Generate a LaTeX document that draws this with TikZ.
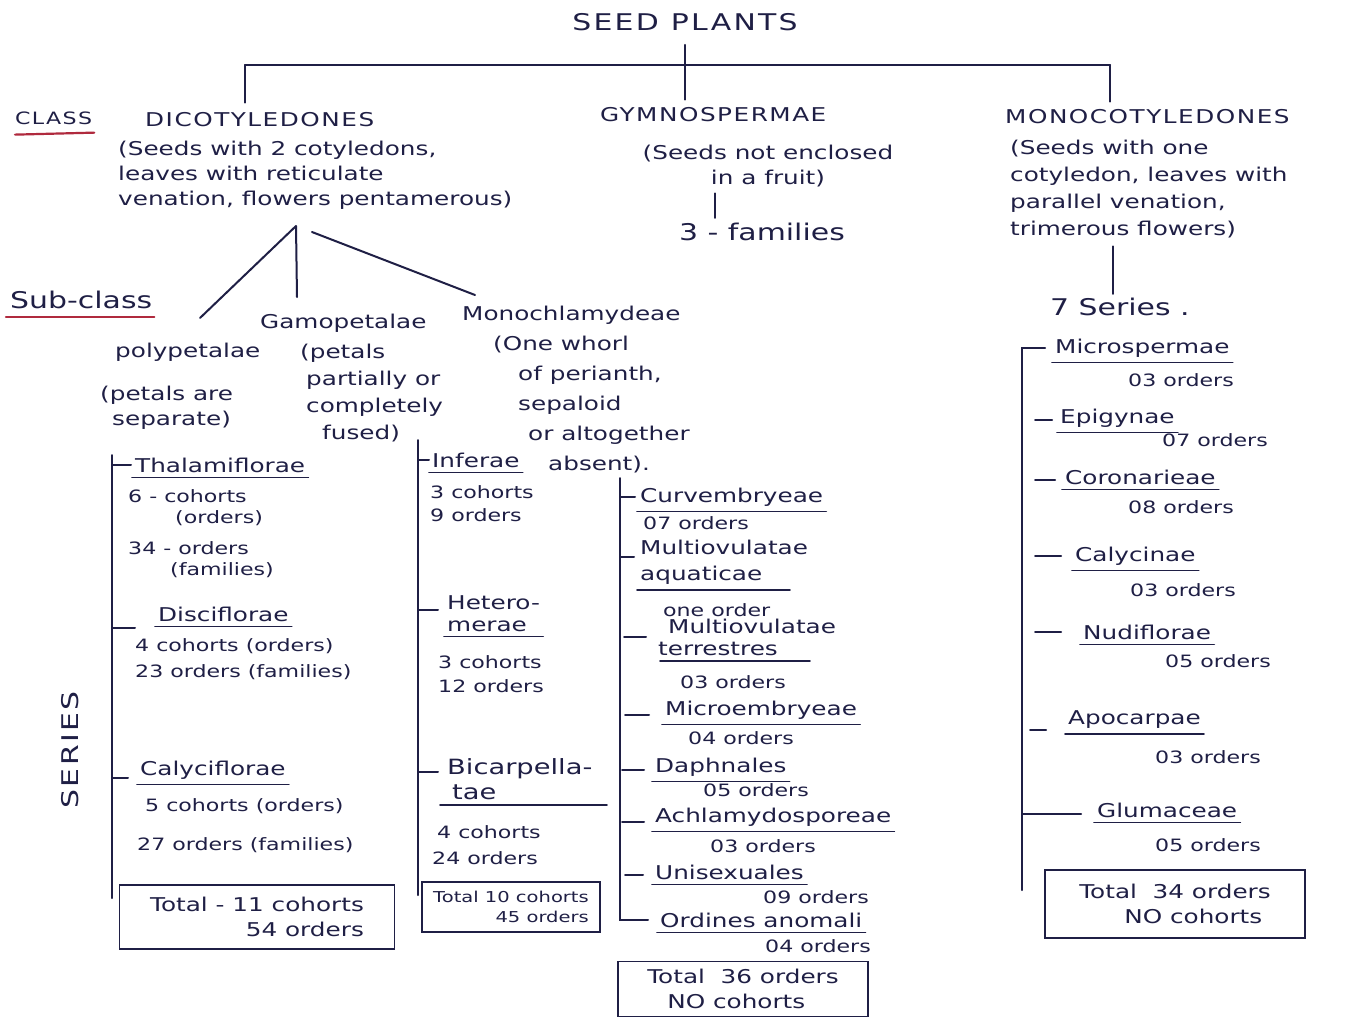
\documentclass[tikz,border=0pt]{standalone}
\usepackage{fontspec}
\setmainfont{DejaVu Sans}[FakeStretch=1.3]
\usetikzlibrary{calc}
\definecolor{ink}{HTML}{1F1F45}
\definecolor{redink}{HTML}{B02A3E}
\newcommand\hnd{\fontsize{19}{25}\selectfont}
\newcommand\hsm{\fontsize{17}{22}\selectfont}
\newcommand\hbig{\fontsize{23}{28}\selectfont}
\newcommand\hcap{\fontsize{19}{25}\selectfont\addfontfeature{LetterSpace=8}}
\newcommand\hcapbig{\fontsize{23}{28}\selectfont\addfontfeature{LetterSpace=10}}
\newcommand\ulnode[1]{\draw[uline] ($(#1.south west)+(-3,5)$) -- ($(#1.south east)+(3,5)$);}
\begin{document}
\begin{tikzpicture}[x=1pt,y=-1pt,
  every node/.style={inner sep=0pt, text=ink},
  txt/.style={anchor=west, font=\hnd},
  small/.style={anchor=west, font=\hsm},
  capsN/.style={anchor=west, font=\hcap},
  multi/.style={anchor=north west, align=left, font=\hnd},
  totbox/.style={draw=ink, line width=1.9pt, inner sep=4pt, align=right, font=\hnd},
  conn/.style={draw=ink, line width=2pt, line cap=round},
  uline/.style={draw=ink, line width=1.7pt, line cap=round},
  redline/.style={draw=redink, line width=2.2pt, line cap=round}]
\useasboundingbox[fill=white] (0,0) rectangle (1350,1020);

% ---------- top level ----------
\node[anchor=center, font=\hcapbig] (title) at (685,22) {SEED PLANTS};
\coordinate (barL) at (245,65);
\coordinate (barR) at (1110,65);
\node[capsN] (dicot) at (145,120) {DICOTYLEDONES};
\node[capsN] (gymno) at (600,115) {GYMNOSPERMAE};
\node[capsN] (monoc) at (1005,117) {MONOCOTYLEDONES};
\draw[conn] (barL) -- (barR);
\draw[conn] (barL) -- ($(barL |- dicot.north)+(0,-10)$);
\draw[conn] ($(title.south)+(0,14)$) -- ($(title.south |- gymno.north)+(0,-8)$);
\draw[conn] (barR) -- ($(barR |- monoc.north)+(0,-8)$);

\node[anchor=west, font=\fontsize{17}{22}\selectfont\addfontfeature{LetterSpace=8}] (class) at (15,118) {CLASS};
\draw[redline] ($(class.south west)+(0,10)$) -- ($(class.south east)+(2,8)$);

% ---------- Dicotyledones ----------
\node[multi] (dicotdesc) at (118,141) {(Seeds with 2 cotyledons,\\leaves with reticulate\\venation, flowers pentamerous)};
\coordinate (fork) at (296,226);
\coordinate (polyend) at (200,318);
\coordinate (gamoend) at (297,297);
\coordinate (monend) at (475,295);
\draw[conn] (fork) -- (polyend);
\draw[conn] (fork) -- (gamoend);
\draw[conn] ($(fork)+(16,6)$) -- (monend);

\node[anchor=west, font=\hbig] (subclass) at (10,300) {Sub-class};
\draw[redline] ($(subclass.south west)+(-4,8)$) -- ($(subclass.south east)+(2,8)$);

\node[txt] (gamo) at (260,323) {Gamopetalae};
\node[txt] (monoch) at (462,315) {Monochlamydeae};
\node[txt] (poly) at (115,352) {polypetalae};

\node[multi, font=\fontsize{19}{27}\selectfont] (gamodesc) at (300,344) {(petals\\\hspace*{6pt}partially or\\\hspace*{6pt}completely\\\hspace*{22pt}fused)};
\node[multi] (polydesc) at (100,386) {(petals are\\\hspace*{12pt}separate)};
\node[multi, font=\fontsize{19}{30}\selectfont] (monodesc) at (493,336) {(One whorl\\\hspace*{25pt}of perianth,\\\hspace*{25pt}sepaloid\\\hspace*{35pt}or altogether\\\hspace*{55pt}absent).};

% ---------- Gymnospermae ----------
\node[multi, align=center, anchor=north] (gymdesc) at (768,145) {(Seeds not enclosed\\in a fruit)};
\node[anchor=center, font=\hbig] (fam) at (762,232) {3 - families};
\draw[conn] ($(fam.north)+(-47,-5)$) -- ($(fam.north |- gymdesc.south)+(-47,6)$);

% ---------- Monocotyledones ----------
\node[multi, font=\fontsize{19}{27}\selectfont] (monocdesc) at (1010,140) {(Seeds with one\\cotyledon, leaves with\\parallel venation,\\trimerous flowers)};
\node[anchor=west, font=\hbig] (seven) at (1050,307) {7 Series .};
\coordinate (sevx) at (1113,0);
\draw[conn] ($(sevx |- seven.north)+(0,-4)$) -- ($(sevx |- monocdesc.south)+(0,8)$);

% ---------- Series label ----------
\node[font=\hcapbig, rotate=90] (series) at (70,750) {SERIES};

% ---------- Polypetalae series ----------
\coordinate (pTop) at (112,455);
\coordinate (pBot) at (112,898);
\draw[conn] (pTop) -- (pBot);
\node[txt] (thal) at (135,465) {Thalamiflorae};
\draw[conn] (thal.west -| pTop) -- ($(thal.west)+(-4,0)$);
\ulnode{thal}
\node[small] (thal1) at (128,496) {6 - cohorts};
\node[small] (thal2) at (175,518) {(orders)};
\node[small] (thal3) at (128,548) {34 - orders};
\node[small] (thal4) at (170,570) {(families)};
\node[txt] (disc) at (158,614) {Disciflorae};
\draw[conn] ($(disc.west -| pTop)+(0,14)$) -- ++(23,0);
\ulnode{disc}
\node[small] (disc1) at (135,646) {4 cohorts (orders)};
\node[small] (disc2) at (135,672) {23 orders (families)};
\node[txt] (caly) at (140,770) {Calyciflorae};
\draw[conn] ($(caly.west -| pTop)+(0,8)$) -- ++(16,0);
\ulnode{caly}
\node[small] (caly1) at (145,806) {5 cohorts (orders)};
\node[small] (caly2) at (137,845) {27 orders (families)};
\node[totbox, minimum width=275pt, minimum height=64pt] (ptot) at (257,917) {Total - 11 cohorts\\54 orders};

% ---------- Gamopetalae series ----------
\coordinate (gTop) at (418,440);
\coordinate (gBot) at (418,895);
\draw[conn] (gTop) -- (gBot);
\node[txt] (infe) at (432,460) {Inferae};
\draw[conn] (infe.west -| gTop) -- ($(infe.west)+(-3,0)$);
\ulnode{infe}
\node[small] (infe1) at (430,492) {3 cohorts};
\node[small] (infe2) at (430,515) {9 orders};
\node[multi, font=\fontsize{19}{22}\selectfont] (hetero) at (447,595) {Hetero-\\merae};
\draw[conn] ($(hetero.north west -| gTop)+(0,15)$) -- ++(20,0);
\ulnode{hetero}
\node[small] (het1) at (438,662) {3 cohorts};
\node[small] (het2) at (438,686) {12 orders};
\node[multi, font=\fontsize{21}{25}\selectfont] (bicarp) at (447,758) {Bicarpella-\\\hspace*{5pt}tae};
\draw[conn] ($(bicarp.north west -| gTop)+(0,14)$) -- ++(20,0);
\draw[uline] ($(bicarp.south west)+(-7,5)$) -- ($(bicarp.south west)+(160,5)$);
\node[small] (bic1) at (437,832) {4 cohorts};
\node[small] (bic2) at (432,858) {24 orders};
\node[totbox, font=\fontsize{15}{20}\selectfont, minimum width=178pt, minimum height=50pt] (gtot) at (511,907) {Total 10 cohorts\\45 orders};

% ---------- Monochlamydeae series ----------
\coordinate (mTop) at (620,478);
\node[txt] (curv) at (640,497) {Curvembryeae};
\ulnode{curv}
\node[small] (curv1) at (643,523) {07 orders};
\node[multi, font=\fontsize{19}{26}\selectfont] (multa) at (640,540) {Multiovulatae\\aquaticae};
\draw[uline] ($(multa.south west)+(-3,5)$) -- ($(multa.south west)+(150,5)$);
\node[small] (multa1) at (663,610) {one order};
\node[multi, font=\fontsize{19}{22}\selectfont] (multt) at (658,619) {\hspace*{10pt}Multiovulatae\\terrestres};
\draw[uline] ($(multt.south west)+(2,5)$) -- ($(multt.south west)+(152,5)$);
\node[small] (multt1) at (680,682) {03 orders};
\node[txt] (micro) at (665,710) {Microembryeae};
\ulnode{micro}
\node[small] (micro1) at (688,738) {04 orders};
\node[txt] (daph) at (655,767) {Daphnales};
\ulnode{daph}
\node[small] (daph1) at (703,790) {05 orders};
\node[txt] (achl) at (655,817) {Achlamydosporeae};
\ulnode{achl}
\node[small] (achl1) at (710,846) {03 orders};
\node[txt] (unis) at (655,872) {Unisexuales};
\ulnode{unis}
\node[small] (unis1) at (763,897) {09 orders};
\node[txt] (ordin) at (660,920) {Ordines anomali};
\ulnode{ordin}
\node[small] (ordin1) at (765,946) {04 orders};
\draw[conn] (mTop) -- (ordin.west -| mTop) -- ($(ordin.west)+(-12,0)$);
\draw[conn] (curv.west -| mTop) -- ($(curv.west)+(-5,0)$);
\draw[conn] ($(multa.north west -| mTop)+(0,17)$) -- ++(14,0);
\draw[conn] ($(multt.north west -| mTop)+(4,18)$) -- ++(22,0);
\draw[conn] ($(micro.west -| mTop)+(5,5)$) -- ++(24,0);
\draw[conn] ($(daph.west -| mTop)+(2,3)$) -- ++(22,0);
\draw[conn] ($(achl.west -| mTop)+(2,5)$) -- ++(22,0);
\draw[conn] ($(unis.west -| mTop)+(5,3)$) -- ++(18,0);
\node[totbox, minimum width=250pt, minimum height=55pt, align=left] (mtot) at (743,989) {Total\ \ 36 orders\\\hspace*{20pt}NO cohorts};

% ---------- Monocot series ----------
\coordinate (rBot) at (1022,890);
\node[txt] (micsp) at (1055,348) {Microspermae};
\ulnode{micsp}
\node[small] (micsp1) at (1128,380) {03 orders};
\node[txt] (epig) at (1060,418) {Epigynae};
\ulnode{epig}
\node[small] (epig1) at (1162,440) {07 orders};
\node[txt] (coro) at (1065,477) {Coronarieae};
\ulnode{coro}
\node[small] (coro1) at (1128,507) {08 orders};
\node[txt] (calyc) at (1075,556) {Calycinae};
\ulnode{calyc}
\node[small] (calyc1) at (1130,590) {03 orders};
\node[txt] (nudi) at (1083,632) {Nudiflorae};
\ulnode{nudi}
\node[small] (nudi1) at (1165,661) {05 orders};
\node[txt] (apoc) at (1068,720) {Apocarpae};
\ulnode{apoc}
\node[small] (apoc1) at (1155,757) {03 orders};
\node[txt] (glum) at (1097,810) {Glumaceae};
\ulnode{glum}
\node[small] (glum1) at (1155,845) {05 orders};
\draw[conn] (rBot) -- (micsp.west -| rBot) -- ($(micsp.west)+(-10,0)$);
\draw[conn] ($(epig.west -| rBot)+(13,2)$) -- ($(epig.west)+(-8,2)$);
\draw[conn] ($(coro.west -| rBot)+(13,3)$) -- ($(coro.west)+(-10,3)$);
\draw[conn] ($(calyc.west -| rBot)+(13,0)$) -- ($(calyc.west)+(-14,0)$);
\draw[conn] ($(nudi.west -| rBot)+(13,0)$) -- ($(nudi.west)+(-22,0)$);
\draw[conn] ($(apoc.west -| rBot)+(8,10)$) -- ($(apoc.west)+(-22,10)$);
\draw[conn] ($(glum.west -| rBot)+(0,4)$) -- ($(glum.west)+(-16,4)$);
\node[totbox, minimum width=260pt, minimum height=68pt, align=left] (rtot) at (1175,904) {Total\ \ 34 orders\\\hspace*{45pt}NO cohorts};

\end{tikzpicture}
\end{document}
